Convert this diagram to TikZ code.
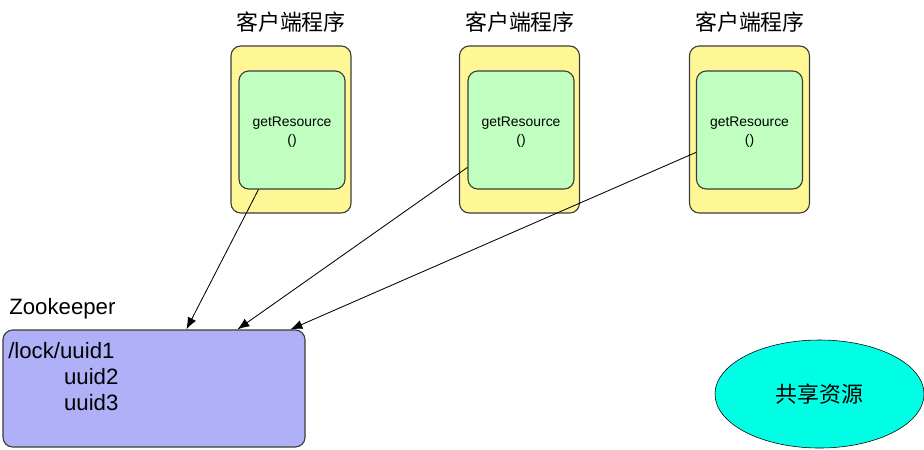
\documentclass[tikz,border=0pt]{standalone}
\usepackage{fontspec}
\setmainfont{Liberation Sans}
\newfontfamily\cjk{Noto Sans CJK SC}
\usetikzlibrary{calc,shapes.geometric,arrows.meta}

\definecolor{clientyellow}{RGB}{255,247,150}
\definecolor{callgreen}{RGB}{192,255,192}
\definecolor{zkblue}{RGB}{176,176,248}
\definecolor{rescyan}{RGB}{0,255,228}
\definecolor{edgegray}{RGB}{60,60,60}

\begin{document}
\begin{tikzpicture}[
        x=0.025cm, y=-0.025cm,
        client/.style={draw=edgegray, thick, fill=clientyellow, rounded corners=7pt,
            minimum width=3cm, minimum height=4.175cm},
        call/.style={draw=edgegray, thick, fill=callgreen, rounded corners=7pt,
            minimum width=2.65cm, minimum height=2.95cm, align=center,
            font=\fontsize{9.9}{12.8}\selectfont},
        title/.style={font=\cjk\fontsize{15.6}{18}\selectfont},
        zk/.style={draw=edgegray, thick, fill=zkblue, rounded corners=7pt,
            minimum width=7.55cm, minimum height=2.925cm},
        res/.style={ellipse, draw=black, fill=rescyan, minimum width=5.225cm,
            minimum height=2.7cm, font=\cjk\fontsize{15.6}{18}\selectfont},
        big/.style={font=\fontsize{15.8}{18.4}\selectfont, inner sep=0pt},
        req/.style={-{Latex[length=8.5pt,width=6.5pt]}, semithick}
    ]
        \useasboundingbox (0,0) rectangle (924,449);

        % Clients
        \node[client] (out1) at (291,129.5) {};
        \node[client] (out2) at (519.5,129.5) {};
        \node[client] (out3) at (749.5,129.5) {};
        \node[call] (g1) at (292,130) {\rule{0pt}{10.5pt}getResource\\()};
        \node[call] (g2) at (521,130) {\rule{0pt}{10.5pt}getResource\\()};
        \node[call] (g3) at (749.5,130) {\rule{0pt}{10.5pt}getResource\\()};
        \node[title] (t1) at (291,22) {客户端程序};
        \node[title] (t2) at (520,22) {客户端程序};
        \node[title] (t3) at (750,22) {客户端程序};

        % Zookeeper and resource
        \node[zk] (zk) at (154,388.5) {};
        \node[big, anchor=west] (zklabel) at (9,309) {Zookeeper};
        \node[big, anchor=north west, align=left] (zktext) at (8,342)
            {/lock/uuid1\\\hspace*{39.7pt}uuid2\\\hspace*{39.7pt}uuid3};
        \node[res] (res) at (819.5,394) {共享资源};

        % Requests
        \draw[req] ($(g1.south west)+(20,0)$) -- ($(zk.north west)+(184,0)$);
        \draw[req] ($(g2.north west)+(0,97)$) -- ($(zk.north west)+(235,0)$);
        \draw[req] ($(g3.north west)+(0,82)$) -- ($(zk.north west)+(288,0)$);
\end{tikzpicture}
\end{document}
